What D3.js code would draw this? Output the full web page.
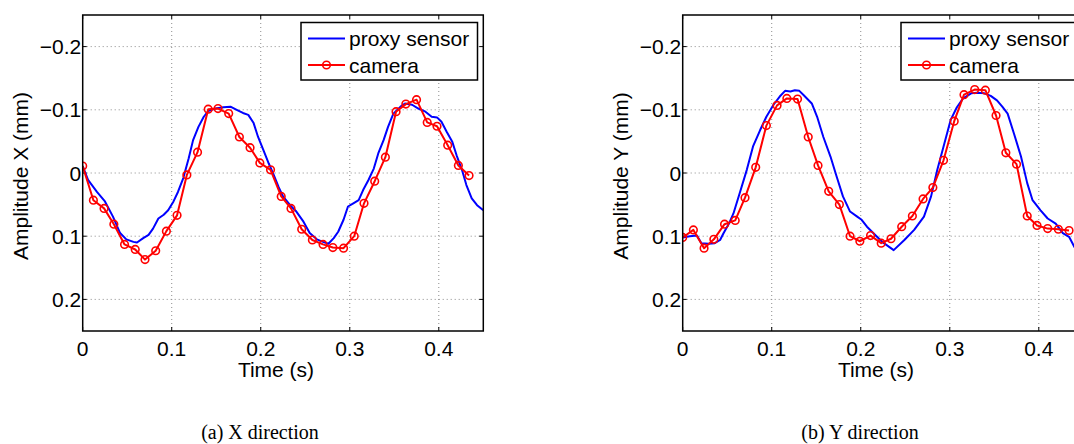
<!DOCTYPE html>
<html>
<head>
<meta charset="utf-8">
<script src="https://cdn.jsdelivr.net/npm/d3@7"></script>
<style>
  body { margin: 0; background: #fff; }
  svg { display: block; }
</style>
</head>
<body>
<script>
'use strict';

// tick values and their labels
const xTicks = [0, 0.1, 0.2, 0.3, 0.4];
const xTickLabels = ["0", "0.1", "0.2", "0.3", "0.4"];
const yTicks = [-0.2, -0.1, 0, 0.1, 0.2];
const yTickLabels = ["\u22120.2", "\u22120.1", "0", "0.1", "0.2"];

// camera samples (same time stamps in both directions)
const camTime = [0, 0.012, 0.024, 0.035, 0.047, 0.059, 0.070, 0.082, 0.094, 0.106, 0.117, 0.129, 0.141,
  0.152, 0.164, 0.176, 0.188, 0.199, 0.211, 0.223, 0.234, 0.246, 0.258, 0.270, 0.281, 0.293, 0.305,
  0.316, 0.328, 0.340, 0.352, 0.363, 0.375, 0.387, 0.398, 0.410, 0.422, 0.434];
const camX = [-0.011, 0.043, 0.056, 0.081, 0.113, 0.121, 0.137, 0.123, 0.092, 0.067, 0.003, -0.033, -0.101,
  -0.102, -0.094, -0.057, -0.040, -0.016, -0.005, 0.037, 0.056, 0.089, 0.106, 0.113, 0.118, 0.119, 0.100,
  0.048, 0.013, -0.025, -0.097, -0.109, -0.116, -0.080, -0.074, -0.044, -0.012, 0.004];
const camY = [0.102, 0.090, 0.119, 0.105, 0.081, 0.075, 0.039, -0.009, -0.075, -0.107, -0.118, -0.117, -0.057,
  -0.012, 0.029, 0.050, 0.100, 0.108, 0.099, 0.111, 0.104, 0.085, 0.068, 0.041, 0.023, -0.020, -0.082,
  -0.124, -0.132, -0.131, -0.091, -0.032, -0.014, 0.068, 0.083, 0.088, 0.089, 0.091];

// proxy sensor, X direction
const proxyTimeX = [0, 0.006, 0.016, 0.025, 0.034, 0.042, 0.049, 0.057, 0.061, 0.068, 0.074, 0.079, 0.085,
  0.091, 0.096, 0.102, 0.107, 0.113, 0.119, 0.124, 0.130, 0.136, 0.141, 0.149, 0.158, 0.166, 0.173, 0.180,
  0.186, 0.192, 0.197, 0.203, 0.209, 0.214, 0.220, 0.225, 0.233, 0.240, 0.248, 0.255, 0.263, 0.270, 0.276,
  0.282, 0.287, 0.293, 0.298, 0.304, 0.310, 0.315, 0.321, 0.327, 0.332, 0.338, 0.343, 0.349, 0.357, 0.362,
  0.370, 0.377, 0.385, 0.392, 0.398, 0.403, 0.409, 0.415, 0.420, 0.426, 0.431, 0.437, 0.443, 0.450];
const proxyX = [-0.011, 0.011, 0.030, 0.045, 0.069, 0.095, 0.105, 0.109, 0.110, 0.103, 0.098, 0.088, 0.072,
  0.066, 0.059, 0.045, 0.030, 0.008, -0.023, -0.052, -0.073, -0.089, -0.098, -0.102, -0.104, -0.105, -0.100, -0.095,
  -0.092, -0.079, -0.057, -0.036, -0.015, 0.001, 0.022, 0.037, 0.051, 0.061, 0.077, 0.095, 0.105, 0.109, 0.112,
  0.103, 0.093, 0.074, 0.053, 0.048, 0.043, 0.027, 0.011, -0.007, -0.031, -0.052, -0.073, -0.094, -0.105, -0.110,
  -0.108, -0.102, -0.097, -0.089, -0.088, -0.081, -0.065, -0.050, -0.028, -0.005, 0.019, 0.040, 0.051, 0.059];

// proxy sensor, Y direction
const proxyTimeY = [0, 0.008, 0.016, 0.021, 0.029, 0.036, 0.042, 0.046, 0.052, 0.057, 0.064, 0.072, 0.079,
  0.087, 0.094, 0.102, 0.109, 0.115, 0.121, 0.126, 0.131, 0.136, 0.145, 0.151, 0.158, 0.166, 0.173, 0.180,
  0.188, 0.196, 0.201, 0.207, 0.214, 0.222, 0.226, 0.237, 0.249, 0.260, 0.271, 0.279, 0.286, 0.294, 0.301,
  0.308, 0.315, 0.324, 0.331, 0.339, 0.346, 0.353, 0.359, 0.365, 0.372, 0.380, 0.387, 0.393, 0.402, 0.410,
  0.419, 0.427, 0.434, 0.440, 0.450];
const proxyY = [0.102, 0.100, 0.099, 0.111, 0.112, 0.111, 0.106, 0.095, 0.080, 0.064, 0.032, -0.005, -0.042,
  -0.068, -0.089, -0.108, -0.121, -0.130, -0.129, -0.131, -0.130, -0.123, -0.110, -0.089, -0.057, -0.026, 0.006, 0.037,
  0.061, 0.069, 0.074, 0.085, 0.095, 0.106, 0.111, 0.122, 0.106, 0.090, 0.069, 0.037, -0.005, -0.047, -0.084,
  -0.104, -0.118, -0.126, -0.127, -0.126, -0.122, -0.115, -0.105, -0.094, -0.063, -0.026, 0.016, 0.043, 0.059, 0.072,
  0.080, 0.095, 0.101, 0.117, 0.130];

const legendNames = ["proxy sensor", "camera"];

const sansFont = "'Liberation Sans', Arial, sans-serif";
const serifFont = "'Liberation Serif', 'Times New Roman', serif";

const svg = d3.select("body").append("svg")
  .attr("width", 1074)
  .attr("height", 444);

// one subplot, shifted horizontally by offsetX
function drawPanel(offsetX, id, proxyT, proxyV, camT, camV, yLabel, caption) {
  const left = 82.7, right = 483.3, top = 15, bottom = 331;

  const g = svg.append("g").attr("transform", `translate(${offsetX},0)`);

  const xScale = d3.scaleLinear().domain([0, 0.45]).range([left, right]);
  const yScale = d3.scaleLinear().domain([-0.25, 0.25]).range([top, bottom]);

  // grid
  g.append("g").selectAll("line.vgrid")
    .data(xTicks.slice(1))
    .enter().append("line")
      .attr("x1", d => xScale(d)).attr("x2", d => xScale(d))
      .attr("y1", top).attr("y2", bottom)
      .attr("stroke", "#8c8c8c").attr("stroke-width", 1)
      .attr("stroke-dasharray", "1,3");
  g.append("g").selectAll("line.hgrid")
    .data(yTicks)
    .enter().append("line")
      .attr("x1", left).attr("x2", right)
      .attr("y1", d => yScale(d)).attr("y2", d => yScale(d))
      .attr("stroke", "#8c8c8c").attr("stroke-width", 1)
      .attr("stroke-dasharray", "1,3");

  // ticks pointing inward, on all four sides
  const tickLen = 4;
  xTicks.forEach(t => {
    g.append("line").attr("x1", xScale(t)).attr("x2", xScale(t))
      .attr("y1", bottom).attr("y2", bottom - tickLen).attr("stroke", "#000");
    g.append("line").attr("x1", xScale(t)).attr("x2", xScale(t))
      .attr("y1", top).attr("y2", top + tickLen).attr("stroke", "#000");
  });
  yTicks.forEach(t => {
    g.append("line").attr("x1", left).attr("x2", left + tickLen)
      .attr("y1", yScale(t)).attr("y2", yScale(t)).attr("stroke", "#000");
    g.append("line").attr("x1", right).attr("x2", right - tickLen)
      .attr("y1", yScale(t)).attr("y2", yScale(t)).attr("stroke", "#000");
  });

  // clip data to axes box
  g.append("clipPath").attr("id", "clip" + id)
    .append("rect").attr("x", left).attr("y", top)
    .attr("width", right - left).attr("height", bottom - top);

  const plot = g.append("g").attr("clip-path", `url(#clip${id})`);

  const proxyData = proxyT.map((t, i) => [t, proxyV[i]]);
  const camData = camT.map((t, i) => [t, camV[i]]);

  const line = d3.line().x(d => xScale(d[0])).y(d => yScale(d[1]));

  plot.append("path")
    .datum(proxyData)
    .attr("d", line)
    .attr("fill", "none")
    .attr("stroke", "#0000ff")
    .attr("stroke-width", 2)
    .attr("stroke-linejoin", "round");

  plot.append("path")
    .datum(camData)
    .attr("d", line)
    .attr("fill", "none")
    .attr("stroke", "#ff0000")
    .attr("stroke-width", 2)
    .attr("stroke-linejoin", "round");

  plot.selectAll("circle.cam")
    .data(camData)
    .enter().append("circle")
      .attr("cx", d => xScale(d[0]))
      .attr("cy", d => yScale(d[1]))
      .attr("r", 3.8)
      .attr("fill", "none")
      .attr("stroke", "#ff0000")
      .attr("stroke-width", 1.6);

  // axes box
  g.append("rect")
    .attr("x", left).attr("y", top)
    .attr("width", right - left).attr("height", bottom - top)
    .attr("fill", "none").attr("stroke", "#000").attr("stroke-width", 1.5);

  // tick labels
  g.selectAll("text.xtick")
    .data(xTicks)
    .enter().append("text")
      .attr("x", d => xScale(d))
      .attr("y", 355.5)
      .attr("text-anchor", "middle")
      .style("font-family", sansFont)
      .style("font-size", "21px")
      .text((d, i) => xTickLabels[i]);

  g.selectAll("text.ytick")
    .data(yTicks)
    .enter().append("text")
      .attr("x", left - 1.5)
      .attr("y", d => yScale(d))
      .attr("dy", "0.36em")
      .attr("text-anchor", "end")
      .style("font-family", sansFont)
      .style("font-size", "21px")
      .text((d, i) => yTickLabels[i]);

  // axis labels
  g.append("text")
    .attr("x", 276)
    .attr("y", 376.5)
    .attr("text-anchor", "middle")
    .style("font-family", sansFont)
    .style("font-size", "21px")
    .text("Time (s)");

  g.append("text")
    .attr("transform", "translate(28,176) rotate(-90)")
    .attr("text-anchor", "middle")
    .style("font-family", sansFont)
    .style("font-size", "21px")
    .text(yLabel);

  // legend
  const lg = g.append("g");
  lg.append("rect")
    .attr("x", 301).attr("y", 22.5)
    .attr("width", 176.5).attr("height", 57.5)
    .attr("fill", "#fff").attr("stroke", "#000").attr("stroke-width", 1.5);

  lg.append("line")
    .attr("x1", 308).attr("x2", 345).attr("y1", 38.5).attr("y2", 38.5)
    .attr("stroke", "#0000ff").attr("stroke-width", 2);
  lg.append("line")
    .attr("x1", 308).attr("x2", 345).attr("y1", 65).attr("y2", 65)
    .attr("stroke", "#ff0000").attr("stroke-width", 2);
  lg.append("circle")
    .attr("cx", 326.5).attr("cy", 65).attr("r", 3.8)
    .attr("fill", "none").attr("stroke", "#ff0000").attr("stroke-width", 1.6);

  lg.selectAll("text")
    .data(legendNames)
    .enter().append("text")
      .attr("x", 349)
      .attr("y", (d, i) => i === 0 ? 38.5 : 65)
      .attr("dy", "0.36em")
      .style("font-family", sansFont)
      .style("font-size", "21px")
      .text(d => d);

  // caption under the subplot
  g.append("text")
    .attr("x", 260)
    .attr("y", 439)
    .attr("text-anchor", "middle")
    .style("font-family", serifFont)
    .style("font-size", "20px")
    .text(caption);
}

drawPanel(0, "a", proxyTimeX, proxyX, camTime, camX, "Amplitude X (mm)", "(a) X direction");
drawPanel(600, "b", proxyTimeY, proxyY, camTime, camY, "Amplitude Y (mm)", "(b) Y direction");
</script>
</body>
</html>
